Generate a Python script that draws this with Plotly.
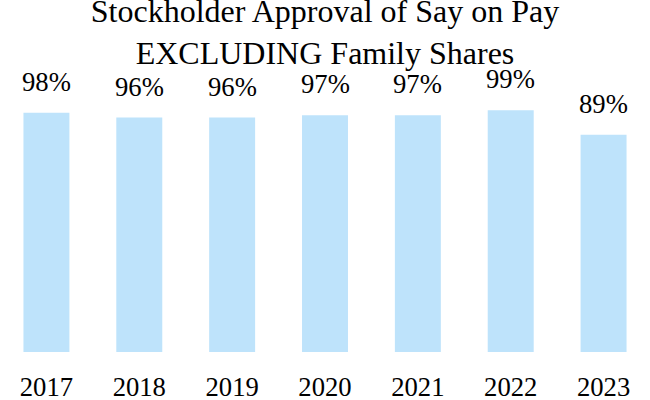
import plotly.graph_objects as go

years = ["2017", "2018", "2019", "2020", "2021", "2022", "2023"]
approval = [98, 96, 96, 97, 97, 99, 89]
labels = [f"{v}%" for v in approval]

BAR_COLOR = "#BEE3FB"
FONT = "Liberation Serif, Times New Roman, serif"

fig = go.Figure(
    go.Bar(
        x=years,
        y=approval,
        marker=dict(color=BAR_COLOR, line=dict(width=0)),
        hoverinfo="skip",
    )
)

for i, (v, lab) in enumerate(zip(approval, labels)):
    fig.add_annotation(
        x=i, y=v, text=lab, showarrow=False,
        xref="x", yref="y", yanchor="bottom", yshift=14,
        font=dict(family=FONT, size=26.67, color="black"),
    )

fig.update_layout(
    width=650, height=400,
    margin=dict(l=0, r=0, t=100, b=48),
    paper_bgcolor="white", plot_bgcolor="white",
    bargap=0.505,
    showlegend=False,
    font=dict(family=FONT, color="black"),
    title=dict(
        text="Stockholder Approval of Say on Pay<br>EXCLUDING Family Shares",
        x=0.5, xanchor="center", y=0.945, yanchor="top",
        font=dict(family=FONT, size=32, color="black"),
    ),
    xaxis=dict(
        type="category", range=[-0.5, len(years) - 0.5],
        showgrid=False, zeroline=False, showline=False,
        ticks="", ticklabelstandoff=16, automargin=False,
        tickfont=dict(family=FONT, size=26.67, color="black"),
    ),
    yaxis=dict(
        range=[0, 103.2], visible=False, showgrid=False, zeroline=False,
    ),
)

fig.write_html(
    "out.html",
    config={"displayModeBar": False, "staticPlot": True},
    post_script="document.body.style.margin='0';",
)
